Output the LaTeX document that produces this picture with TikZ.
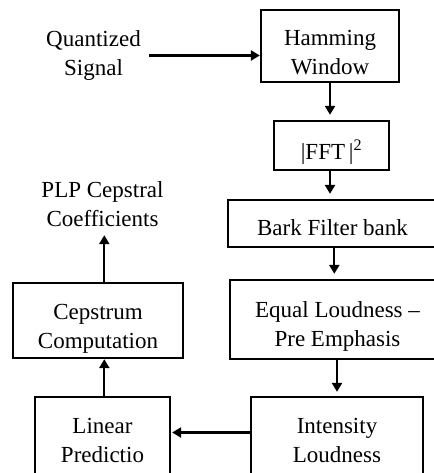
\documentclass[tikz,border=0pt]{standalone}
\usepackage{fontspec}
\setmainfont{Liberation Serif}
\usetikzlibrary{arrows.meta}
\newcommand\shifttxt[2]{\raisebox{#1}[\height][\depth]{\begin{tabular}{@{}c@{}}#2\end{tabular}}}
\newcommand\plaintxt[1]{\begin{tabular}{@{}c@{}}#1\end{tabular}}
\begin{document}
\begin{tikzpicture}[x=1pt,y=-1pt,
  every node/.style={font=\fontsize{23}{28.5}\selectfont, inner sep=0pt},
  blk/.style={draw, line width=2.3pt, rectangle},
  arr/.style={-{Triangle[length=9pt,width=10pt]}, line width=2.3pt},
]
\useasboundingbox (0,0) rectangle (433,473);

\node[blk, minimum width=138pt, minimum height=72pt] (ham) at (330,46) {\shifttxt{-8.5pt}{Hamming\\Window}};
\node[blk, minimum width=115pt, minimum height=49pt] (fft) at (331.5,145.5) {\shifttxt{-8pt}{|FFT\,|\textsuperscript{2}}};
\node[blk, minimum width=209pt, minimum height=47pt] (bark) at (332.5,223.5) {\shifttxt{-6pt}{Bark Filter bank}};
\node[blk, minimum width=215pt, minimum height=79pt] (eq) at (337.5,319.5) {\shifttxt{-7pt}{Equal Loudness --\\Pre Emphasis}};
\node[blk, minimum width=172pt, minimum height=93pt] (int) at (337,443.5) {\shifttxt{1pt}{Intensity\\Loudness}};
\node[blk, minimum width=135pt, minimum height=93pt] (lin) at (102.5,443.5) {\shifttxt{1pt}{Linear\\Predictio}};
\node[blk, minimum width=170pt, minimum height=75pt] (cep) at (98,320.5) {\shifttxt{-8pt}{Cepstrum\\Computation}};
\node (q) at (93.5,55.5) {\plaintxt{Quantized\\Signal}};
\node (plp) at (102.5,206.5) {\plaintxt{PLP Cepstral\\Coefficients}};

\draw[arr] ([xshift=8pt]q.east) -- (q.east -| ham.west);
\draw[arr, shorten >=5pt] (ham.south) -- (ham.south |- fft.north);
\draw[arr, shorten >=5pt] (fft.south -| ham.south) -- (ham.south |- bark.north);
\draw[arr, shorten >=5pt] ([xshift=1.8pt]bark.south) -- ([xshift=1.8pt]bark.south |- eq.north);
\draw[arr, shorten >=4pt] (eq.south -| int.north) -- (int.north);
\draw[arr, shorten >=1pt] ([yshift=11pt]int.west) -- ([yshift=11pt]int.west -| lin.east);
\draw[arr] ([xshift=1.8pt]lin.north) -- ([xshift=1.8pt]lin.north |- cep.south);
\draw[arr] ([xshift=6.3pt]cep.north) -- ([xshift=6.3pt]cep.north |- plp.south);
\end{tikzpicture}
\end{document}
